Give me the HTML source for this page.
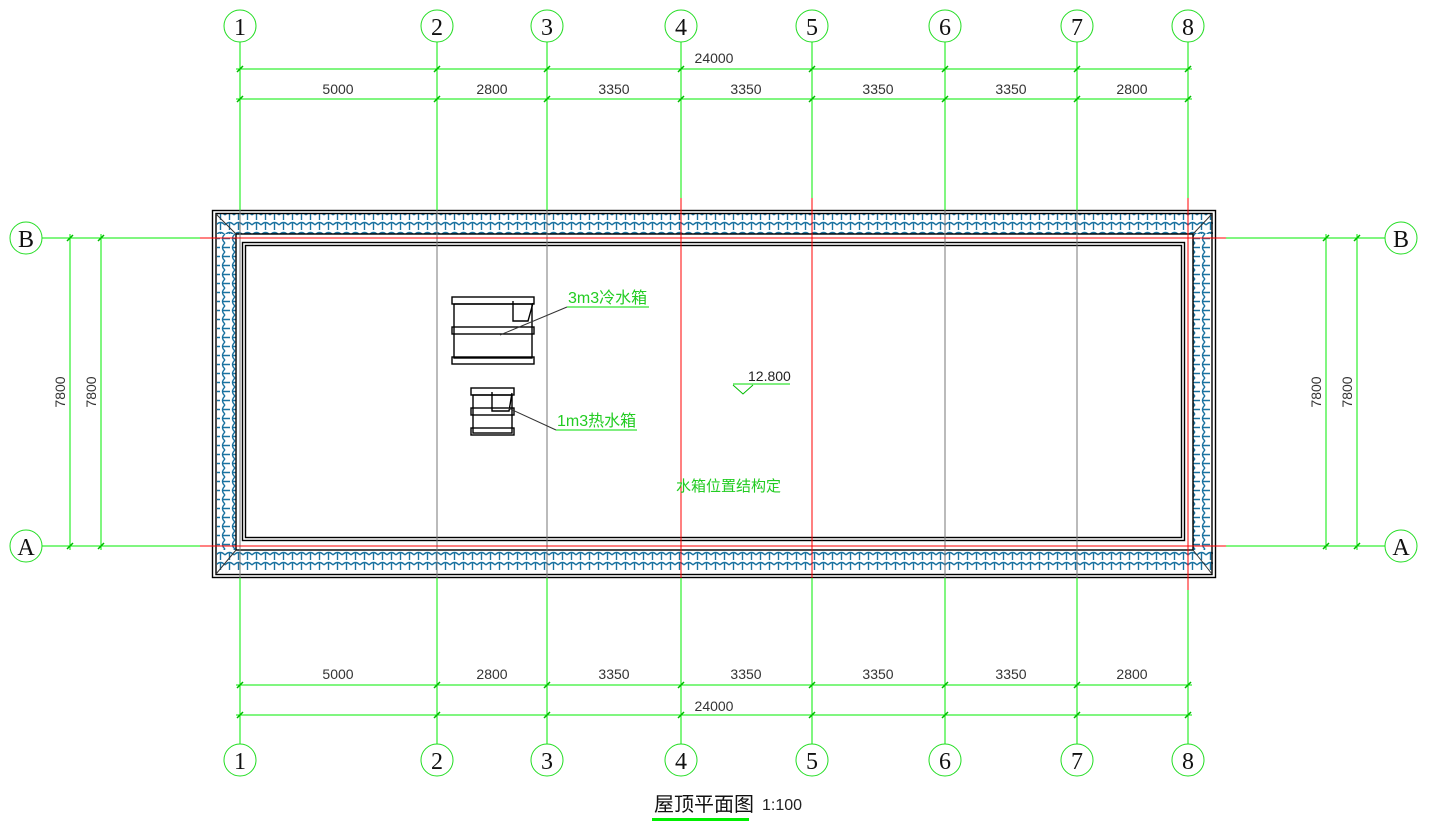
<!DOCTYPE html>
<html><head><meta charset="utf-8"><style>
html,body{margin:0;padding:0;background:#fff}
svg{display:block}
text{font-family:"Liberation Sans","Noto Sans CJK SC",sans-serif}
.c{fill:#fff;stroke:#22dd22;stroke-width:1}
.cn{font-size:24px;fill:#111;text-anchor:middle;font-family:"Liberation Serif",serif}
.d{font-size:14px;fill:#333;text-anchor:middle}
.g{stroke:#00ee00;stroke-width:1}
.k{stroke:#000;stroke-width:1.4;fill:none}
</style></head><body>
<svg width="1450" height="833" viewBox="0 0 1450 833" xmlns="http://www.w3.org/2000/svg">
<defs>
<pattern id="th" width="9" height="10" patternUnits="userSpaceOnUse">
<path d="M0 5 Q4.5 0 9 5 M4.5 2.5 V10" stroke="#1a72a0" stroke-width="1.4" fill="none"/>
</pattern>
<pattern id="tv" width="10" height="9" patternUnits="userSpaceOnUse">
<path d="M5 0 Q0 4.5 5 9 M2.5 4.5 H10" stroke="#1a72a0" stroke-width="1.4" fill="none"/>
</pattern>
</defs>
<rect x="217" y="214" width="996" height="20" fill="url(#th)"/>
<rect x="217" y="550" width="996" height="21" fill="url(#th)"/>
<rect x="217" y="234" width="19" height="316" fill="url(#tv)"/>
<rect x="1193" y="234" width="19" height="316" fill="url(#tv)"/>
<rect x="212.5" y="210.5" width="1003" height="367" class="k"/>
<rect x="216" y="213.5" width="996" height="361" class="k"/>
<rect x="236" y="234" width="957" height="316" class="k"/>
<rect x="242.5" y="242.5" width="942" height="298" class="k"/>
<rect x="245.5" y="245.5" width="936" height="292" class="k" stroke-width="1"/>
<path d="M216 214 L236 234 M1212 214 L1193 234 M216 574 L236 550 M1212 574 L1193 550" stroke="#333" stroke-width="1"/>
<g class="g">
<path d="M240 42V210 M437 42V210 M547 42V210 M681 42V210 M812 42V210 M945 42V210 M1077 42V210 M1188 42V210"/>
<path d="M240 578V744 M437 578V744 M547 578V744 M681 578V744 M812 578V744 M945 578V744 M1077 578V744 M1188 578V744"/>
<path d="M42 238H212 M42 546H212 M1216 238H1385 M1216 546H1385"/>
<path d="M236 69H1192 M236 99H1192 M236 685H1192 M236 715H1192"/>
<path d="M70 234V550 M101 234V550 M1326 234V550 M1357 234V550"/>
</g>
<g stroke="#777" stroke-width="1">
<path d="M240 210V578 M437 210V578 M547 210V578 M945 210V578 M1077 210V578"/>
</g>
<g stroke="#ff0000" stroke-width="1">
<path d="M681 198V578 M812 198V578 M1188 198V590 M200 238H1226 M200 546H1226"/>
</g>
<g stroke="#00bb00" stroke-width="1.5">
<path d="M237 72l6-6M434 72l6-6M544 72l6-6M678 72l6-6M809 72l6-6M942 72l6-6M1074 72l6-6M1185 72l6-6"/>
<path d="M237 102l6-6M434 102l6-6M544 102l6-6M678 102l6-6M809 102l6-6M942 102l6-6M1074 102l6-6M1185 102l6-6"/>
<path d="M237 688l6-6M434 688l6-6M544 688l6-6M678 688l6-6M809 688l6-6M942 688l6-6M1074 688l6-6M1185 688l6-6"/>
<path d="M237 718l6-6M434 718l6-6M544 718l6-6M678 718l6-6M809 718l6-6M942 718l6-6M1074 718l6-6M1185 718l6-6"/>
<path d="M67 241l6-6M98 241l6-6M67 549l6-6M98 549l6-6M1323 241l6-6M1354 241l6-6M1323 549l6-6M1354 549l6-6"/>
</g>
<text class="d" x="714" y="63">24000</text>
<text class="d" x="338" y="94">5000</text><text class="d" x="492" y="94">2800</text><text class="d" x="614" y="94">3350</text><text class="d" x="746" y="94">3350</text><text class="d" x="878" y="94">3350</text><text class="d" x="1011" y="94">3350</text><text class="d" x="1132" y="94">2800</text>
<text class="d" x="338" y="679">5000</text><text class="d" x="492" y="679">2800</text><text class="d" x="614" y="679">3350</text><text class="d" x="746" y="679">3350</text><text class="d" x="878" y="679">3350</text><text class="d" x="1011" y="679">3350</text><text class="d" x="1132" y="679">2800</text>
<text class="d" x="714" y="711">24000</text>
<text class="d" transform="translate(65 392) rotate(-90)">7800</text>
<text class="d" transform="translate(96 392) rotate(-90)">7800</text>
<text class="d" transform="translate(1321 392) rotate(-90)">7800</text>
<text class="d" transform="translate(1352 392) rotate(-90)">7800</text>
<g>
<circle class="c" cx="240" cy="26" r="16"/><text class="cn" x="240" y="35">1</text>
<circle class="c" cx="437" cy="26" r="16"/><text class="cn" x="437" y="35">2</text>
<circle class="c" cx="547" cy="26" r="16"/><text class="cn" x="547" y="35">3</text>
<circle class="c" cx="681" cy="26" r="16"/><text class="cn" x="681" y="35">4</text>
<circle class="c" cx="812" cy="26" r="16"/><text class="cn" x="812" y="35">5</text>
<circle class="c" cx="945" cy="26" r="16"/><text class="cn" x="945" y="35">6</text>
<circle class="c" cx="1077" cy="26" r="16"/><text class="cn" x="1077" y="35">7</text>
<circle class="c" cx="1188" cy="26" r="16"/><text class="cn" x="1188" y="35">8</text>
<circle class="c" cx="240" cy="760" r="16"/><text class="cn" x="240" y="769">1</text>
<circle class="c" cx="437" cy="760" r="16"/><text class="cn" x="437" y="769">2</text>
<circle class="c" cx="547" cy="760" r="16"/><text class="cn" x="547" y="769">3</text>
<circle class="c" cx="681" cy="760" r="16"/><text class="cn" x="681" y="769">4</text>
<circle class="c" cx="812" cy="760" r="16"/><text class="cn" x="812" y="769">5</text>
<circle class="c" cx="945" cy="760" r="16"/><text class="cn" x="945" y="769">6</text>
<circle class="c" cx="1077" cy="760" r="16"/><text class="cn" x="1077" y="769">7</text>
<circle class="c" cx="1188" cy="760" r="16"/><text class="cn" x="1188" y="769">8</text>
<circle class="c" cx="26" cy="238" r="16"/><text class="cn" x="26" y="247">B</text>
<circle class="c" cx="26" cy="546" r="16"/><text class="cn" x="26" y="555">A</text>
<circle class="c" cx="1401" cy="238" r="16"/><text class="cn" x="1401" y="247">B</text>
<circle class="c" cx="1401" cy="546" r="16"/><text class="cn" x="1401" y="555">A</text>
</g>
<g class="k" stroke-width="1.2">
<rect x="452" y="297" width="82" height="7"/><rect x="454" y="304" width="78" height="54"/>
<rect x="452" y="327" width="82" height="7"/><rect x="452" y="357" width="82" height="7"/>
<path d="M513 301V321H528L533 303"/>
<rect x="471" y="388" width="43" height="7"/><rect x="473" y="395" width="39" height="38"/>
<rect x="471" y="408" width="43" height="7"/><rect x="471" y="428" width="43" height="7"/>
<path d="M492 392V411H509L512 393"/>
</g>
<path d="M500 335L567 307 M508 408L556 430" stroke="#333" stroke-width="1" fill="none"/>
<path d="M567 307H649 M556 430H637 M733 384H790" stroke="#00dd00" stroke-width="1"/>
<text x="568" y="303" font-size="16" fill="#22cc22">3m3冷水箱</text>
<text x="557" y="426" font-size="16" fill="#22cc22">1m3热水箱</text>
<path d="M733 385L743 394L753 385" stroke="#00bb00" fill="none"/>
<text x="748" y="381" font-size="14" fill="#222">12.800</text>
<text x="676" y="491" font-size="15" fill="#22cc22">水箱位置结构定</text>
<text x="654" y="811" font-size="20" fill="#111">屋顶平面图</text>
<text x="762" y="810" font-size="16" fill="#222">1:100</text>
<rect x="652" y="818" width="97" height="3" fill="#00ee00"/>
</svg>
</body></html>
